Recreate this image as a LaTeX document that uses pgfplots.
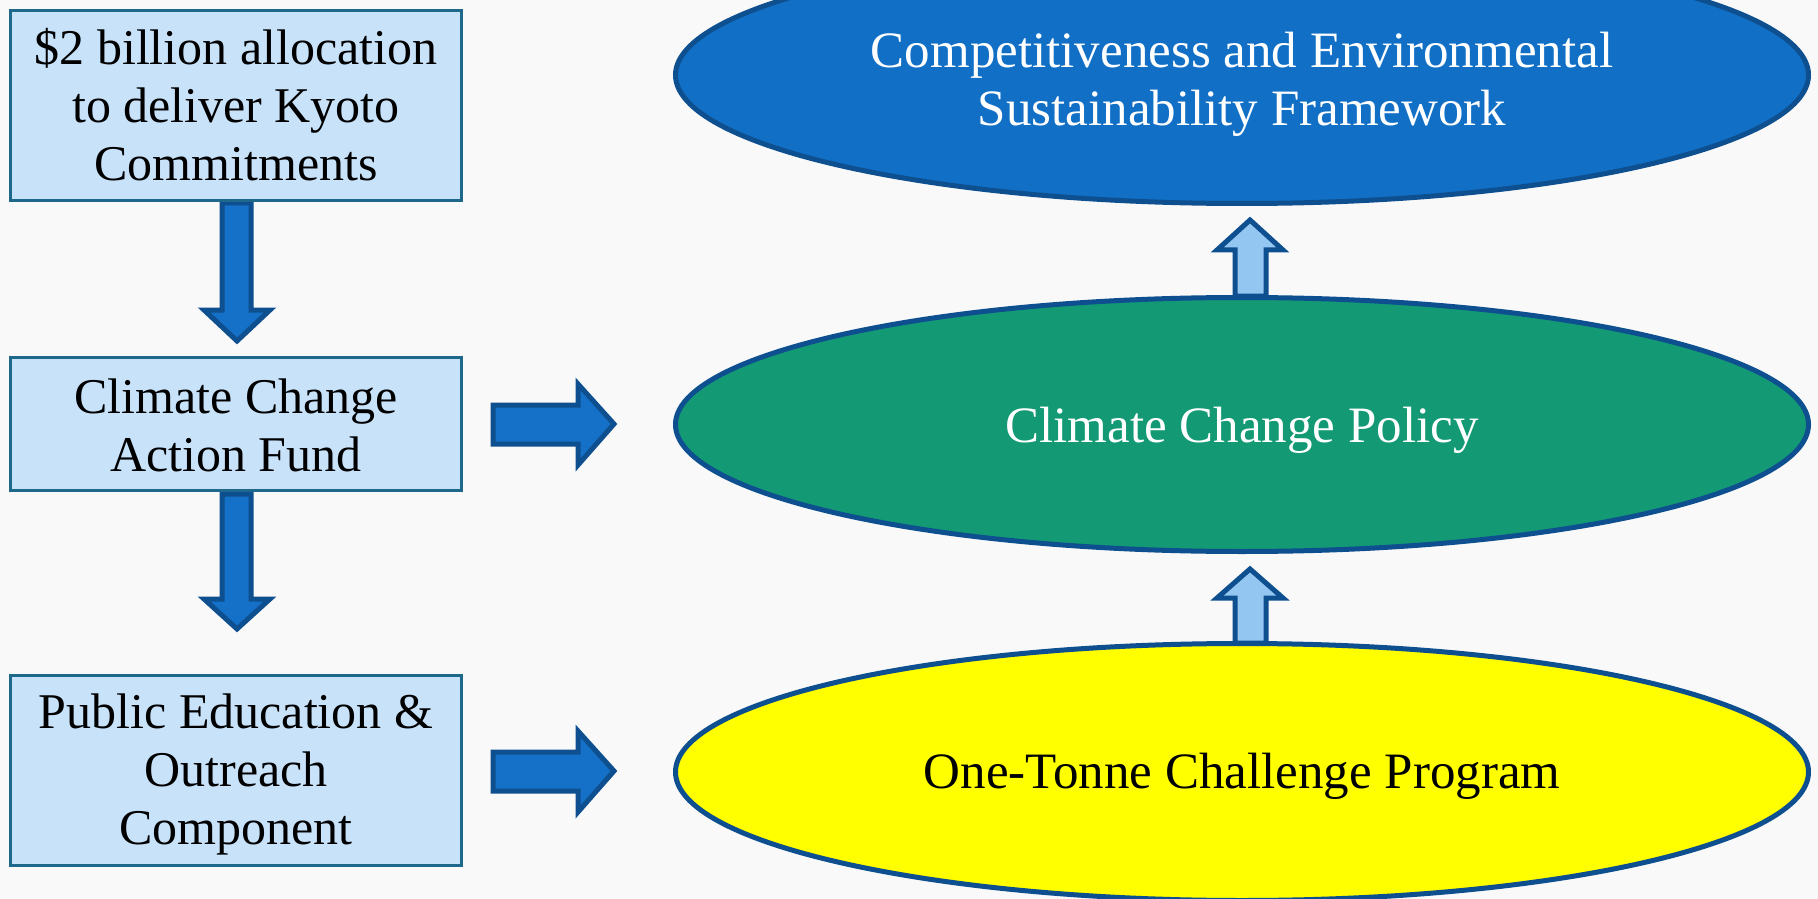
\documentclass[border=0pt]{standalone}
\usepackage{pgfplots}
\pgfplotsset{compat=1.18}
\usepackage{fontspec}
\setmainfont{Liberation Serif}
\definecolor{bg}{RGB}{249,249,249}
\definecolor{boxfill}{RGB}{200,226,250}
\definecolor{boxedge}{RGB}{30,104,140}
\definecolor{darkedge}{RGB}{14,79,143}
\definecolor{blueell}{RGB}{17,112,198}
\definecolor{greenell}{RGB}{19,154,116}
\definecolor{yellowell}{RGB}{255,255,0}
\definecolor{arrowfill}{RGB}{21,112,200}
\definecolor{lightarrow}{RGB}{148,198,242}
\tikzset{lbl/.style={font=\fontsize{50bp}{58bp}\selectfont, align=center, inner sep=0pt},
         elbl/.style={font=\fontsize{51bp}{58bp}\selectfont, align=center, inner sep=0pt}}
\begin{document}
\begin{tikzpicture}
\begin{axis}[
  width=1818bp, height=899bp, scale only axis,
  xmin=0, xmax=1818, ymin=0, ymax=899, y dir=reverse,
  axis lines=none, ticks=none, clip=true,
]
% background
\fill[bg] (axis cs:0,0) rectangle (axis cs:1818,899);
% down arrows
\addplot[mark=none, fill=arrowfill, draw=darkedge, line width=5bp, line join=miter]
  coordinates {(222,203) (251,203) (251,310) (270,310) (237,341) (204,310) (222,310)} -- cycle;
\addplot[mark=none, fill=arrowfill, draw=darkedge, line width=5bp, line join=miter]
  coordinates {(222,494) (251,494) (251,599) (270,599) (237,629) (204,599) (222,599)} -- cycle;
% boxes
\draw[fill=boxfill, draw=boxedge, line width=3bp] (axis cs:10.5,10.5) rectangle (axis cs:461.5,200.5);
\draw[fill=boxfill, draw=boxedge, line width=3bp] (axis cs:10.5,357.5) rectangle (axis cs:461.5,490.5);
\draw[fill=boxfill, draw=boxedge, line width=3bp] (axis cs:10.5,675.5) rectangle (axis cs:461.5,865.5);
% right arrows
\addplot[mark=none, fill=arrowfill, draw=darkedge, line width=5bp, line join=miter]
  coordinates {(493,405) (578,405) (578,384) (614,424) (578,465) (578,444) (493,444)} -- cycle;
\addplot[mark=none, fill=arrowfill, draw=darkedge, line width=5bp, line join=miter]
  coordinates {(493,752) (578,752) (578,731) (614,771) (578,812) (578,791) (493,791)} -- cycle;
% up arrows
\addplot[mark=none, fill=lightarrow, draw=darkedge, line width=5bp, line join=miter]
  coordinates {(1235,296) (1235,250) (1217,250) (1250,220) (1283,250) (1266,250) (1266,296)} -- cycle;
\addplot[mark=none, fill=lightarrow, draw=darkedge, line width=5bp, line join=miter]
  coordinates {(1235,643) (1235,598) (1217,598) (1250,569) (1283,598) (1266,598) (1266,643)} -- cycle;
% ellipses
\draw[fill=blueell, draw=darkedge, line width=5bp] (axis cs:1242,75) ellipse [x radius=566.5, y radius=128.5];
\draw[fill=greenell, draw=darkedge, line width=5bp] (axis cs:1242,424.5) ellipse [x radius=566.5, y radius=127];
\draw[fill=yellowell, draw=darkedge, line width=5bp] (axis cs:1242,772) ellipse [x radius=566.5, y radius=128.5];
% texts
\node[lbl] at (axis cs:236,105) {\$2 billion allocation\\to deliver Kyoto\\Commitments};
\node[lbl] at (axis cs:236,425) {Climate Change\\Action Fund};
\node[lbl] at (axis cs:236,774) {Public Education \&\\Outreach\\Component};
\node[elbl, text=white] at (axis cs:1242,84) {Competitiveness and Environmental\\Sustainability Framework};
\node[elbl, text=white] at (axis cs:1242,430) {Climate Change Policy};
\node[elbl, text=black] at (axis cs:1242,776) {One-Tonne Challenge Program};
\end{axis}
\pgfresetboundingbox
\path (current axis.south west) rectangle (current axis.north east);
\end{tikzpicture}
\end{document}
